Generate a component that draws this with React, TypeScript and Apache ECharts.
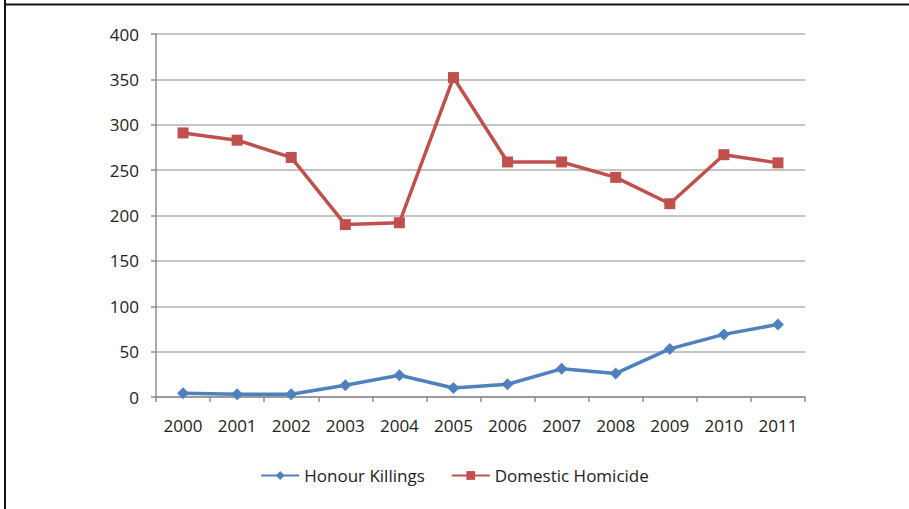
import React, { useEffect, useRef } from "react";
import * as echarts from "echarts";

const years = ["2000", "2001", "2002", "2003", "2004", "2005", "2006", "2007", "2008", "2009", "2010", "2011"];
const honourKillings = [4, 3, 3, 13, 24, 10, 14, 31, 26, 53, 69, 80];
const domesticHomicide = [291, 283, 264, 190, 192, 352, 259, 259, 242, 213, 267, 258];
const yTicks = { min: 0, max: 400, interval: 50 };

export default function App() {
  const ref = useRef<HTMLDivElement>(null);
  useEffect(() => {
    if (!ref.current) return;
    const chart = echarts.init(ref.current, undefined, { renderer: "svg" });
    const font = "'Open Sans', 'Liberation Sans', sans-serif";
    chart.setOption({
      animation: false,
      backgroundColor: "#ffffff",
      textStyle: { fontFamily: font },
      grid: { left: 156, right: 104, top: 34, bottom: 112, containLabel: false },
      graphic: [
        { type: "line", shape: { x1: 5, y1: 0, x2: 5, y2: 509 }, style: { stroke: "#111", lineWidth: 2 } },
        { type: "line", shape: { x1: 4, y1: 4.5, x2: 909, y2: 4.5 }, style: { stroke: "#111", lineWidth: 2 } },
      ],
      legend: {
        bottom: 20,
        left: "center",
        itemWidth: 38,
        itemHeight: 11,
        itemGap: 26,
        textStyle: { fontFamily: font, fontSize: 17, color: "#222" },
        data: ["Honour Killings", "Domestic Homicide"],
      },
      xAxis: {
        type: "category",
        data: years,
        boundaryGap: true,
        axisLine: { lineStyle: { color: "#8c8c8c", width: 1.5 } },
        axisTick: { show: true, length: 5, lineStyle: { color: "#8c8c8c", width: 1.5 } },
        axisLabel: { fontFamily: font, fontSize: 17, color: "#222", margin: 20 },
        splitLine: { show: false },
      },
      yAxis: {
        type: "value",
        min: yTicks.min,
        max: yTicks.max,
        interval: yTicks.interval,
        axisLine: { show: true, lineStyle: { color: "#8c8c8c", width: 1.5 } },
        axisTick: { show: true, length: 5, lineStyle: { color: "#8c8c8c", width: 1.5 } },
        axisLabel: { fontFamily: font, fontSize: 17, color: "#222", margin: 17 },
        splitLine: { show: true, lineStyle: { color: "#b0b0b0", width: 1.5 } },
      },
      series: [
        {
          name: "Honour Killings",
          type: "line",
          data: honourKillings,
          symbol: "diamond",
          symbolSize: 12,
          itemStyle: { color: "#4f81bd" },
          lineStyle: { color: "#4f81bd", width: 3.5 },
        },
        {
          name: "Domestic Homicide",
          type: "line",
          data: domesticHomicide,
          symbol: "rect",
          symbolSize: 11,
          itemStyle: { color: "#c0504d" },
          lineStyle: { color: "#c0504d", width: 3.5 },
        },
      ],
    });
    return () => chart.dispose();
  }, []);
  return <div ref={ref} style={{ position: "absolute", left: 0, top: 0, width: 909, height: 509 }} />;
}
